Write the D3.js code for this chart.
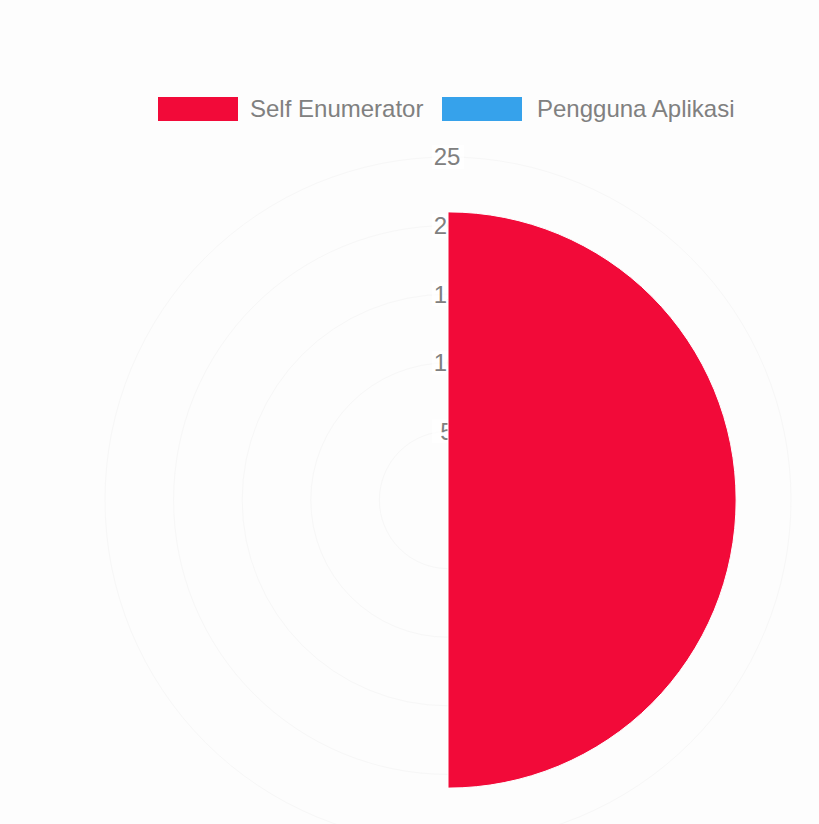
<!DOCTYPE html>
<html>
<head>
<meta charset="utf-8">
<script src="https://cdn.jsdelivr.net/npm/d3@7"></script>
<style>
html,body{margin:0;padding:0;background:#fdfdfd;}
svg{display:block;}
</style>
</head>
<body>
<svg id="chart" width="819" height="824"></svg>
<script>
const categories = ["Self Enumerator", "Pengguna Aplikasi"];
const values = [21, 0];
const colors = ["#f20a39", "#36a2eb"];
const tickValues = [5, 10, 15, 20, 25];

const svg = d3.select("#chart");
const cx = 448, cy = 500;
const r = d3.scaleLinear().domain([0, 25]).range([0, 343]);
const angle = d3.scaleBand().domain(categories).range([0, 2 * Math.PI]).padding(0);

const g = svg.append("g").attr("transform", `translate(${cx},${cy})`);

// grid circles
g.selectAll("circle.grid").data(tickValues).enter().append("circle")
  .attr("class", "grid")
  .attr("r", d => r(d))
  .attr("fill", "none")
  .attr("stroke", "#f7f7f7")
  .attr("stroke-width", 1);

// tick labels
const tl = g.selectAll("g.tick").data(tickValues).enter().append("g")
  .attr("class", "tick")
  .attr("transform", d => `translate(0,${-r(d)})`);
tl.append("rect")
  .attr("x", -16).attr("y", -12).attr("width", 32).attr("height", 24)
  .attr("fill", "rgba(255,255,255,0.75)");
tl.append("text")
  .attr("text-anchor", "middle")
  .attr("dy", "0.35em")
  .attr("x", -1)
  .style("font-family", "'Liberation Sans', Arial, sans-serif")
  .style("font-size", "24px")
  .attr("fill", "#808080")
  .text(d => d);

// slices
const arc = d3.arc()
  .innerRadius(0)
  .outerRadius(d => r(d.value))
  .startAngle(d => angle(d.cat))
  .endAngle(d => angle(d.cat) + angle.bandwidth());
const sliceData = categories.map((c, i) => ({cat: c, value: values[i], color: colors[i]}));
g.selectAll("path.slice").data(sliceData).enter().append("path")
  .attr("class", "slice")
  .attr("d", arc)
  .attr("fill", d => d.color)
  .attr("stroke", "#fff")
  .attr("stroke-width", 1);

// legend
const legendX = [158, 442];
const lg = svg.selectAll("g.legend").data(sliceData).enter().append("g")
  .attr("class", "legend")
  .attr("transform", (d, i) => `translate(${legendX[i]},97)`);
lg.append("rect")
  .attr("width", 80).attr("height", 24)
  .attr("fill", d => d.color);
lg.append("text")
  .attr("x", (d, i) => i === 0 ? 92 : 95)
  .attr("y", 12)
  .attr("dy", "0.35em")
  .style("font-family", "'Liberation Sans', Arial, sans-serif")
  .style("font-size", "24px")
  .attr("fill", "#808080")
  .text(d => d.cat);
</script>
</body>
</html>
